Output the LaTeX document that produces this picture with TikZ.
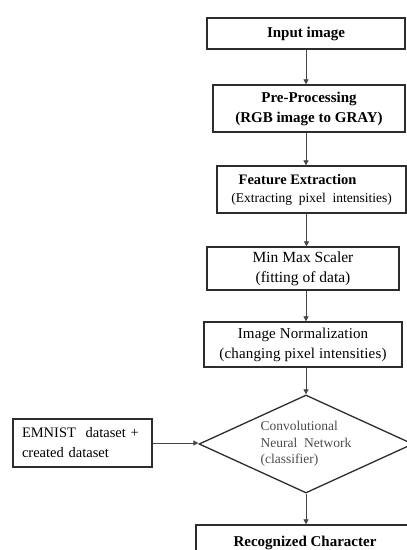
\documentclass[tikz,border=0pt]{standalone}
\usepackage{fontspec}
\setmainfont{Liberation Serif}
\usepackage{xcolor}
\usetikzlibrary{shapes.geometric, arrows.meta, positioning}
\definecolor{boxline}{RGB}{45, 45, 45}
\definecolor{arrowgray}{RGB}{70, 70, 70}

\begin{document}
\begin{tikzpicture}[
        x=1pt, y=1pt,
        stage/.style={rectangle, draw=boxline, fill=white, line width=1.3pt, inner sep=0pt, align=center, font=\fontsize{15}{20}\selectfont},
        bstage/.style={stage, font=\fontsize{15}{20}\selectfont\bfseries},
        decide/.style={diamond, aspect=2.2, draw=boxline, fill=white, line width=1.3pt, inner sep=0pt, minimum width=214pt, minimum height=98pt, align=left, font=\fontsize{13.5}{16.5}\selectfont\color{black!70}},
        arrow/.style={-{Triangle[length=5pt, width=5pt]}, line width=0.8pt, color=arrowgray}
    ]
        \clip (0, 0) rectangle (407, 550);
        \fill[white] (0, 0) rectangle (407, 550);

        % Main column
        \node[bstage, minimum width=198pt, minimum height=31pt] (input) at (306, 516.5) {Input image};
        \node[bstage, minimum width=192pt, minimum height=47pt] (prep) at (309, 441.5) {Pre-Processing\\(RGB image to GRAY)};
        \node[stage, minimum width=189pt, minimum height=47pt, font=\fontsize{13.5}{18}\selectfont] (feat) at (311.5, 360.5) {\hspace*{-28pt}{\fontsize{14.5}{18}\selectfont\bfseries Feature Extraction}\\(Extracting\ \ pixel\ \ intensities)};
        \node[stage, minimum width=192pt, minimum height=43pt, font=\fontsize{15.5}{20}\selectfont] (scaler) at (303, 281.5) {Min Max Scaler\\(fitting of data)};
        \node[stage, minimum width=198pt, minimum height=45pt, font=\fontsize{15}{20}\selectfont\addfontfeatures{LetterSpace=1}] (norm) at (303, 205.5) {Image Normalization\\(changing pixel intensities)};

        % Classifier and data
        \node[decide] (cnn) at (306, 106) {\raisebox{-3pt}{Convolutional}\\\raisebox{-3pt}{Neural\ \ Network}\\\raisebox{-3pt}{(classifier)}};
        \node[stage, align=left, text width=121pt, minimum width=139pt, minimum height=48pt, font=\fontsize{14.5}{20}\selectfont] (data) at (82.5, 107) {EMNIST\ \ dataset +\\created dataset};
        \node[bstage, minimum width=218pt, minimum height=40pt] (result) at (305, 5) {\raisebox{8pt}{Recognized Character}};

        % Connections
        \draw[arrow] (input.south) -- (input.south |- prep.north);
        \draw[arrow] (prep.south) ++(-3, 0) coordinate (p2s) -- (p2s |- feat.north);
        \draw[arrow] (feat.south) ++(-5, 0) coordinate (p3s) -- (p3s |- scaler.north);
        \draw[arrow] (scaler.south) ++(3, 0) coordinate (p4s) -- (p4s |- norm.north);
        \draw[arrow] (norm.south) ++(3, 0) coordinate (p5s) -- (p5s |- cnn.north);
        \draw[arrow] (data.east) -- (data.east -| cnn.west);
        \draw[arrow] (cnn.south) -- (cnn.south |- result.north);
    \end{tikzpicture}
\end{document}
